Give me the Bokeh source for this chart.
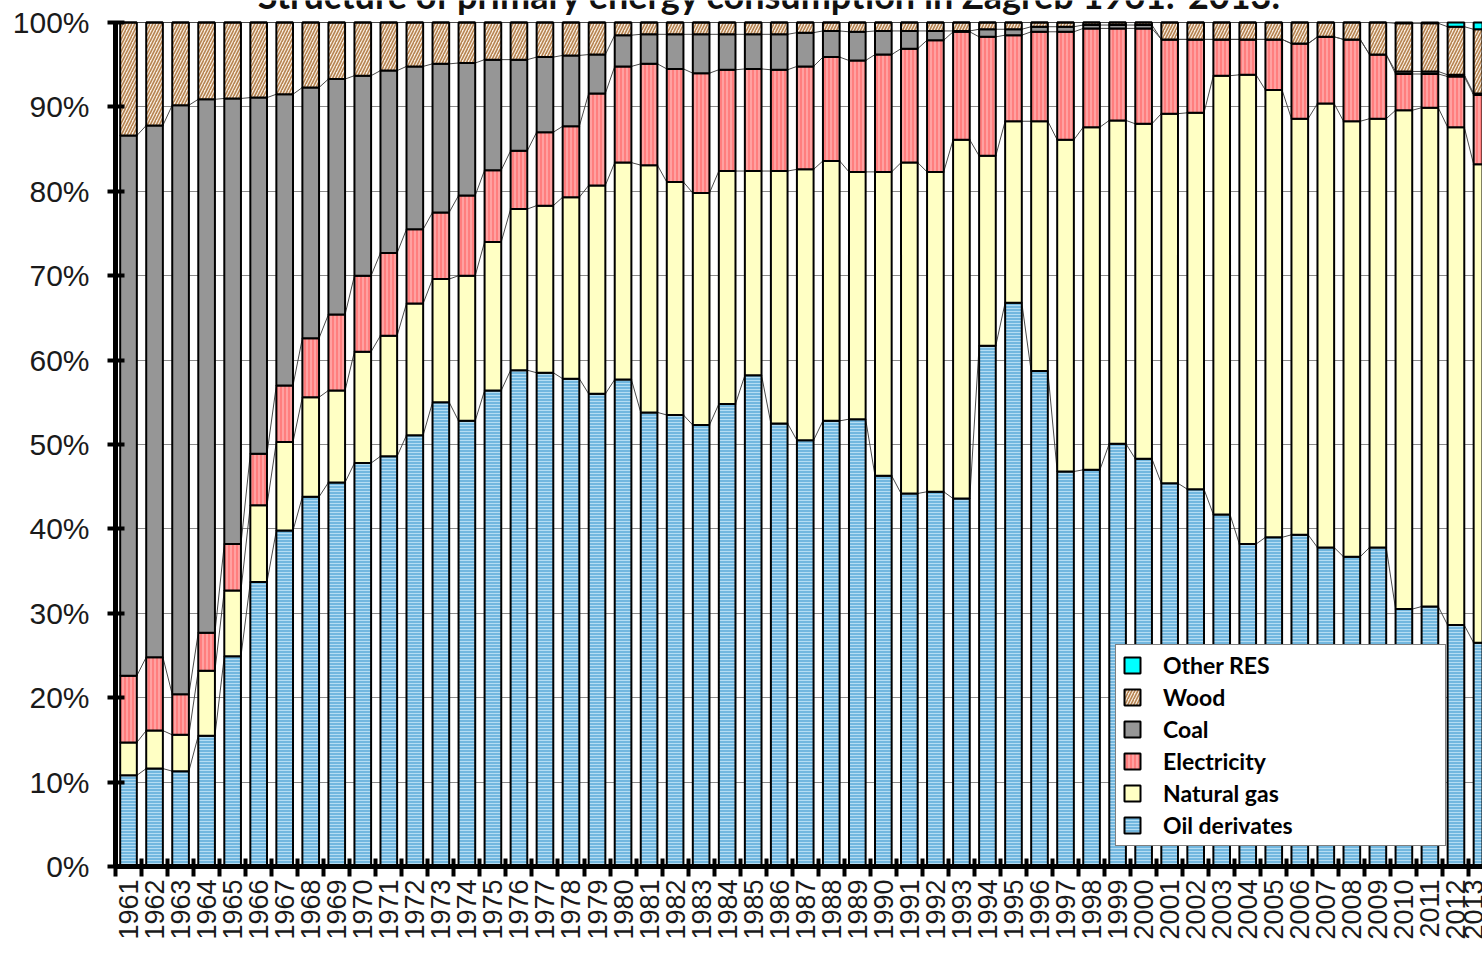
import numpy as np
from bokeh.plotting import figure
from bokeh.models import (ColumnDataSource, Range1d, FixedTicker, PrintfTickFormatter,
                          Legend, LegendItem, Label)
from bokeh.transform import stack
from bokeh.embed import file_html
from bokeh.resources import INLINE

years = list(range(1961, 2014))

oil = [10.8, 11.6, 11.3, 15.5, 24.9, 33.7, 39.8, 43.8, 45.5, 47.8,
       48.6, 51.1, 55.0, 52.8, 56.4, 58.8, 58.5, 57.8, 56.0, 57.7,
       53.8, 53.5, 52.3, 54.8, 58.2, 52.5, 50.5, 52.8, 53.0, 46.3,
       44.2, 44.4, 43.6, 61.7, 66.8, 58.7, 46.8, 47.0, 50.1, 48.3,
       45.4, 44.7, 41.7, 38.2, 39.0, 39.3, 37.8, 36.7, 37.8, 30.5,
       30.8, 28.6, 26.5]

gas = [3.9, 4.5, 4.3, 7.7, 7.8, 9.1, 10.5, 11.8, 10.9, 13.2,
       14.3, 15.6, 14.6, 17.2, 17.6, 19.1, 19.8, 21.5, 24.7, 25.7,
       29.3, 27.6, 27.5, 27.6, 24.2, 29.9, 32.1, 30.8, 29.3, 36.0,
       39.2, 37.9, 42.5, 22.5, 21.5, 29.6, 39.3, 40.6, 38.3, 39.7,
       43.8, 44.6, 52.0, 55.6, 53.0, 49.3, 52.6, 51.6, 50.8, 59.1,
       59.1, 59.0, 56.7]

electricity = [7.9, 8.7, 4.8, 4.5, 5.5, 6.1, 6.7, 7.0, 9.0, 9.0,
               9.8, 8.8, 7.9, 9.5, 8.5, 6.9, 8.7, 8.4, 10.9, 11.4,
               12.0, 13.4, 14.2, 12.0, 12.1, 12.0, 12.2, 12.3, 13.2, 13.9,
               13.5, 15.6, 12.8, 14.1, 10.2, 10.6, 12.8, 11.7, 10.9, 11.3,
               8.8, 8.7, 4.3, 4.2, 6.0, 8.9, 7.9, 9.7, 7.6, 4.3,
               4.0, 6.0, 8.2]

coal = [64.0, 63.0, 69.8, 63.2, 52.8, 42.2, 34.5, 29.7, 27.9, 23.7,
        21.6, 19.3, 17.6, 15.7, 13.1, 10.8, 8.9, 8.4, 4.6, 3.7,
        3.5, 4.1, 4.6, 4.2, 4.1, 4.2, 4.0, 3.1, 3.4, 2.8,
        2.1, 1.1, 0.1, 0.9, 0.7, 0.6, 0.6, 0.4, 0.4, 0.4,
        0.0, 0.0, 0.0, 0.0, 0.0, 0.0, 0.0, 0.0, 0.0, 0.3,
        0.3, 0.2, 0.2]

wood = [13.4, 12.2, 9.8, 9.1, 9.0, 8.9, 8.5, 7.7, 6.7, 6.3,
        5.7, 5.2, 4.9, 4.8, 4.4, 4.4, 4.1, 3.9, 3.8, 1.5,
        1.4, 1.4, 1.4, 1.4, 1.4, 1.4, 1.2, 1.0, 1.1, 1.0,
        1.0, 1.0, 1.0, 0.8, 0.8, 0.5, 0.5, 0.3, 0.3, 0.3,
        2.0, 2.0, 2.0, 2.0, 2.0, 2.5, 1.7, 2.0, 3.8, 5.7,
        5.7, 5.7, 7.6]

other_res = [0.0, 0.0, 0.0, 0.0, 0.0, 0.0, 0.0, 0.0, 0.0, 0.0,
             0.0, 0.0, 0.0, 0.0, 0.0, 0.0, 0.0, 0.0, 0.0, 0.0,
             0.0, 0.0, 0.0, 0.0, 0.0, 0.0, 0.0, 0.0, 0.0, 0.0,
             0.0, 0.0, 0.0, 0.0, 0.0, 0.0, 0.0, 0.0, 0.0, 0.0,
             0.0, 0.0, 0.0, 0.0, 0.0, 0.0, 0.0, 0.0, 0.0, 0.1,
             0.1, 0.5, 0.8]

series_names = ["Oil derivates", "Natural gas", "Electricity", "Coal", "Wood", "Other RES"]
y_ticks = [0, 10, 20, 30, 40, 50, 60, 70, 80, 90, 100]
title_text = "Structure of primary energy consumption in Zagreb 1961.-2013."

cols = ["oil", "gas", "electricity", "coal", "wood", "other_res"]
source = ColumnDataSource(dict(year=years, oil=oil, gas=gas, electricity=electricity,
                               coal=coal, wood=wood, other_res=other_res))

styles = {
    "oil": dict(fill_color="#72B7DF", hatch_pattern="horizontal_line", hatch_color="#B4DDF3",
                hatch_scale=3, hatch_weight=1),
    "gas": dict(fill_color="#FFFFC4"),
    "electricity": dict(fill_color="#FF7E7E", hatch_pattern="vertical_line", hatch_color="#FFC4C4",
                        hatch_scale=4, hatch_weight=1),
    "coal": dict(fill_color="#969696"),
    "wood": dict(fill_color="#F7ECE0", hatch_pattern="right_diagonal_line", hatch_color="#B5824F",
                 hatch_scale=6, hatch_weight=1.6),
    "other_res": dict(fill_color="#00FFFF"),
}

BAR_W = 0.64

# the frame reaches the top of the canvas so that the (cut) title is visible there
p = figure(width=1482, height=957, output_backend="svg", toolbar_location=None,
           x_range=Range1d(1960.5, 2013.02), y_range=Range1d(0, 102.607),
           min_border_left=115, min_border_right=0, min_border_top=0, min_border_bottom=91,
           background_fill_color="white", border_fill_color="white")
p.outline_line_color = None

# series lines (connecting stacked segment tops between adjacent bars)
levels = np.cumsum(np.array([oil, gas, electricity, coal, wood]), axis=0)
yrs = np.array(years, dtype=float)
sx0, sy0, sx1, sy1 = [], [], [], []
for lev in levels:
    sx0 += list(yrs[:-1] + BAR_W / 2)
    sx1 += list(yrs[1:] - BAR_W / 2)
    sy0 += list(lev[:-1])
    sy1 += list(lev[1:])
p.segment(x0=sx0, y0=sy0, x1=sx1, y1=sy1, line_color="#4a4a4a", line_width=1)

renderers = {}
prev = []
for c in cols:
    bottom = stack(*prev) if prev else 0
    top = stack(*(prev + [c]))
    r = p.vbar(x="year", width=BAR_W, bottom=bottom, top=top, source=source,
               line_color="#000000", line_width=2, **styles[c])
    renderers[c] = r
    prev.append(c)

# axes
p.xgrid.visible = False
p.ygrid.ticker = FixedTicker(ticks=y_ticks)
p.ygrid.grid_line_color = "#8a8a8a"
p.ygrid.grid_line_width = 1

ya = p.yaxis[0]
ya.bounds = (0, 100)
ya.ticker = FixedTicker(ticks=y_ticks)
ya.formatter = PrintfTickFormatter(format="%d%%")
ya.axis_line_width = 5
ya.axis_line_color = "black"
ya.major_tick_line_width = 4
ya.major_tick_line_color = "black"
ya.major_tick_in = 9
ya.major_tick_out = 8
ya.minor_tick_line_color = None
ya.major_label_standoff = 18
ya.major_label_text_font = "Liberation Sans"
ya.major_label_text_font_size = "30px"
ya.major_label_text_color = "#1a1a1a"

xa = p.xaxis[0]
xa.ticker = FixedTicker(ticks=years, minor_ticks=[y - 0.5 for y in years] + [years[-1] + 0.5])
xa.formatter = PrintfTickFormatter(format="%d")
xa.axis_line_width = 5
xa.axis_line_color = "black"
xa.major_tick_line_color = None
xa.major_tick_in = 0
xa.major_tick_out = 0
xa.minor_tick_line_color = "black"
xa.minor_tick_line_width = 4
xa.minor_tick_in = 8
xa.minor_tick_out = 10
xa.major_label_orientation = np.pi / 2
xa.major_label_standoff = 3
xa.major_label_text_font = "Liberation Sans"
xa.major_label_text_font_size = "27px"
xa.major_label_text_color = "#1a1a1a"

# legend (top entry is last stacked series)
items = [LegendItem(label=name, renderers=[renderers[c]])
         for name, c in zip(reversed(series_names), reversed(cols))]
legend = Legend(items=items, location=(1000, 20), orientation="vertical",
                glyph_width=20, glyph_height=20, label_height=22, label_width=276,
                label_standoff=21, spacing=4, padding=6, margin=0,
                label_text_font="Lato", label_text_font_style="bold",
                label_text_font_size="23px", label_text_color="#000000",
                border_line_color="#000000", border_line_width=1,
                background_fill_color="white", background_fill_alpha=1.0)
p.add_layout(legend, "center")

# title, cut off at the top as in the reference
p.add_layout(Label(x=1985.65, y=103.2, text=title_text, text_align="center",
                   text_baseline="alphabetic", text_font="Lato", text_font_style="bold",
                   text_font_size="36px", text_color="#111111"))

open("out.html", "w").write(file_html(p, INLINE))
